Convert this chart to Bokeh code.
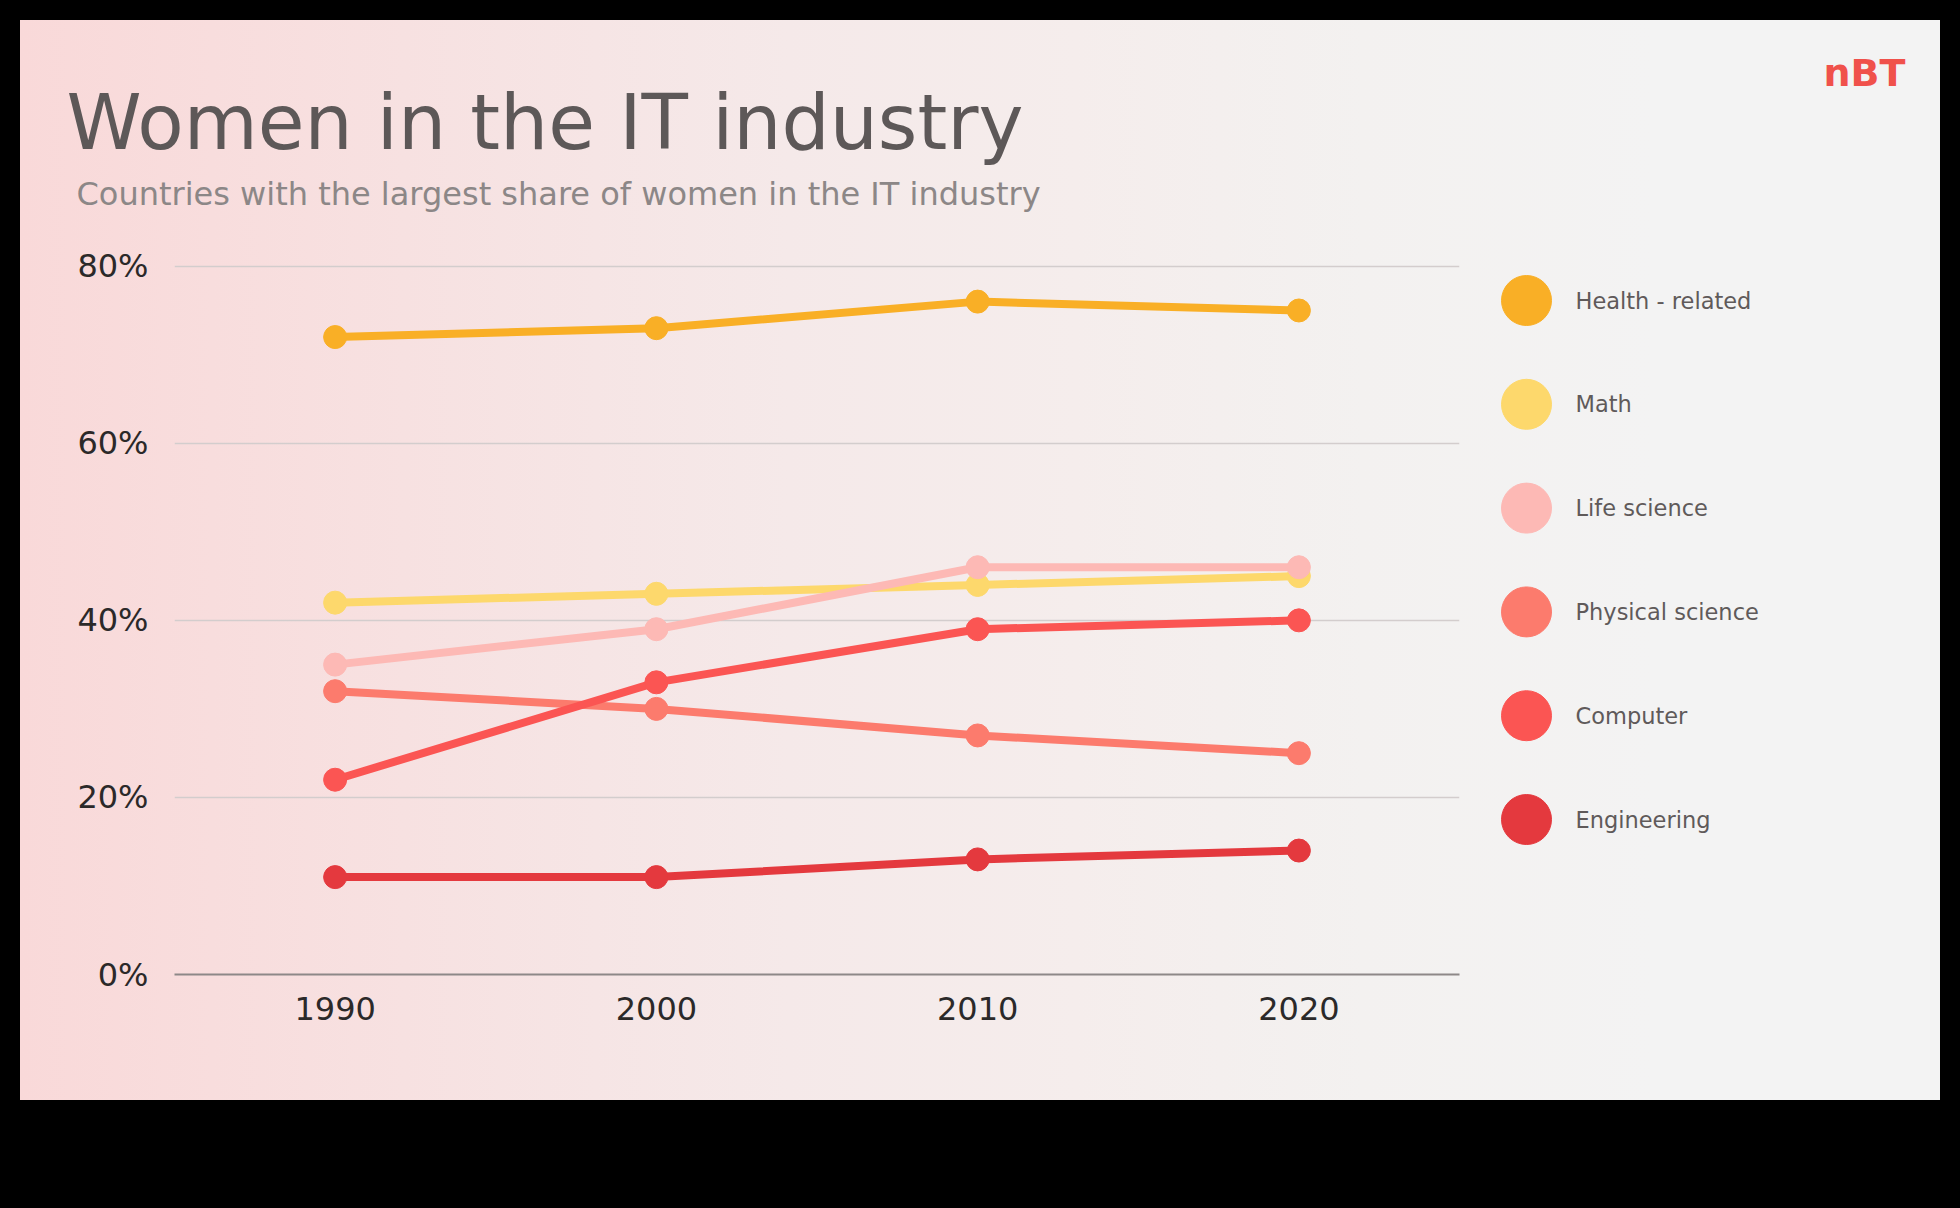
from bokeh.plotting import figure
from bokeh.models import Range1d, FixedTicker, PrintfTickFormatter, Label
from bokeh.layouts import column, row
from bokeh.embed import file_html
from bokeh.resources import INLINE
from bokeh.core.properties import value

# ---------------- data ----------------
years = [1990, 2000, 2010, 2020]
series_names = ["Health - related", "Math", "Life science",
                "Physical science", "Computer", "Engineering"]
health = [72, 73, 76, 75]
math_sci = [42, 43, 44, 45]
life_science = [35, 39, 46, 46]
physical_science = [32, 30, 27, 25]
computer = [22, 33, 39, 40]
engineering = [11, 11, 13, 14]
series_values = [health, math_sci, life_science, physical_science, computer, engineering]
colors = ["#F9AF26", "#FDD86C", "#FDB9B5", "#FC7B6D", "#FB5553", "#E4393E"]
x_ticks = [1990, 2000, 2010, 2020]
y_ticks = [0, 20, 40, 60, 80]
title_text = "Women in the IT industry"
subtitle_text = "Countries with the largest share of women in the IT industry"
logo_text = "nBT"

FONT = "DejaVu Sans"


def bare(fig):
    fig.background_fill_color = None
    fig.border_fill_color = None
    fig.outline_line_color = None
    return fig


# ---------------- header (title, subtitle, logo) ----------------
T = bare(figure(width=1960, height=238, x_range=Range1d(0, 1960), y_range=Range1d(238, 0),
                x_axis_type=None, y_axis_type=None, min_border=0,
                output_backend="svg", toolbar_location=None))
T.add_layout(Label(x=66, y=122, text=title_text, text_font=FONT, text_font_size="76px",
                   text_color="#5d5858", text_baseline="alphabetic", text_align="left"))
T.add_layout(Label(x=76, y=193, text=subtitle_text, text_font=FONT, text_font_size="32px",
                   text_color="#8c8787", text_baseline="alphabetic", text_align="left"))
T.add_layout(Label(x=1823, y=72, text=logo_text, text_font=FONT, text_font_size="38px",
                   text_font_style="bold", text_color="#F0514B",
                   text_baseline="alphabetic", text_align="left"))

# ---------------- main chart ----------------
p = bare(figure(width=1480, height=970, x_range=Range1d(1985, 2025), y_range=Range1d(0, 82),
                min_border_left=174, min_border_right=21, min_border_top=10, min_border_bottom=234,
                output_backend="svg", toolbar_location=None))

for ax in (p.xaxis, p.yaxis):
    ax.major_tick_line_color = None
    ax.minor_tick_line_color = None
    ax.major_tick_out = 0
    ax.major_tick_in = 0
    ax.major_label_text_font = FONT
    ax.major_label_text_font_size = "32px"
    ax.major_label_text_color = "#2b2929"

p.xaxis.ticker = FixedTicker(ticks=x_ticks)
p.xaxis.axis_line_color = "#8d8888"
p.xaxis.axis_line_width = 2
p.xaxis.major_label_standoff = 22

p.yaxis.ticker = FixedTicker(ticks=y_ticks)
p.yaxis.formatter = PrintfTickFormatter(format="%d%%")
p.yaxis.axis_line_color = None
p.yaxis.major_label_standoff = 26

p.xgrid.visible = False
p.ygrid.ticker = FixedTicker(ticks=y_ticks)
p.ygrid.grid_line_color = "#d3cdcd"
p.ygrid.grid_line_width = 1.5

for vals, c in zip(series_values, colors):
    p.line(years, vals, line_color=c, line_width=8, line_join="round", line_cap="round")
    p.scatter(years, vals, size=23, fill_color=c, line_color=c)

# ---------------- legend ----------------
# (its frame is aligned with the chart frame by the row layout)
n = len(series_names)
idx = list(range(n))
L = bare(figure(width=480, height=970, x_range=Range1d(0, 480), y_range=Range1d(6.493, -0.501),
                x_axis_type=None, y_axis_type=None, min_border=0,
                output_backend="svg", toolbar_location=None))
L.scatter([46] * n, idx, size=50, fill_color=colors, line_color=colors)
L.text([95] * n, idx, text=series_names, text_font=value(FONT), text_font_size="22.5px",
       text_color="#5f5a5a", text_baseline="middle", text_align="left")

root = column(
    T, row(p, L),
    styles={
        "background": "linear-gradient(90deg, #f9d9d9 0%, #f7e1e1 20%, #f5e9e9 40%, "
                      "#f5edec 55%, #f3f1f0 70%, #f3f3f3 85%, #f3f3f3 100%) "
                      "20px 20px / 1920px 1080px no-repeat, #000000"
    },
)

open("out.html", "w").write(file_html(root, INLINE))
